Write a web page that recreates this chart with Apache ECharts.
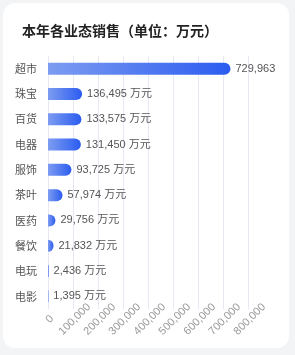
<!DOCTYPE html>
<html><head><meta charset="utf-8">
<script src="https://cdn.jsdelivr.net/npm/echarts@6/dist/echarts.min.js"></script>
<style>
html,body{margin:0;padding:0;width:295px;height:355px;background:#f3f4f6;overflow:hidden;}
#card{position:absolute;left:3px;top:3px;width:286px;height:345px;background:#fff;border-radius:12px;}
#c{position:absolute;left:0;top:0;width:295px;height:355px;}
</style></head>
<body><div id="card"></div><div id="c"></div>
<script>
var titleText = '本年各业态销售（单位：万元）';
var categories = ['超市','珠宝','百货','电器','服饰','茶叶','医药','餐饮','电玩','电影'];
var values = [729963,136495,133575,131450,93725,57974,29756,21832,2436,1395];
var unit = '万元';
var xTicks = {min:0, max:800000, interval:100000};

function fmt(v){return v.toString().replace(/\B(?=(\d{3})+(?!\d))/g, ',');}
var maxVal = Math.max.apply(null, values);
var FONT = '"Liberation Sans", Arial, "Noto Sans CJK SC", sans-serif';
var chart = echarts.init(document.getElementById('c'), null, {renderer:'canvas'});
chart.setOption({
  backgroundColor:'transparent',
  title:{text:titleText,left:17,top:19,textStyle:{fontSize:14,fontWeight:'bold',color:'#222',fontFamily:'"Noto Sans CJK SC"'}},
  grid:{left:48,right:47,top:56,bottom:46,containLabel:false},
  xAxis:{type:'value',min:xTicks.min,max:xTicks.max,interval:xTicks.interval,
    axisLine:{show:false},axisTick:{show:false},
    splitLine:{lineStyle:{color:'#e6e8f3',width:1}},
    axisLabel:{rotate:45,align:'center',verticalAlign:'middle',color:'#999',fontSize:11,margin:12,fontFamily:FONT,
      padding:[0,0,0,5],
      formatter:function(v){return fmt(v);}}},
  yAxis:{type:'category',data:categories,inverse:true,
    axisLine:{show:false},axisTick:{show:false},
    axisLabel:{color:'#555',fontSize:11,margin:11,fontFamily:'"Noto Sans CJK SC"'}},
  series:[{type:'bar',data:values,barWidth:12,
    itemStyle:{borderRadius:[0,6,6,0],
      color:new echarts.graphic.LinearGradient(0,0,1,0,[{offset:0,color:'#7d9cf1'},{offset:1,color:'#2b5cf0'}])},
    label:{show:true,position:'right',distance:5,color:'#555',fontSize:11,fontFamily:FONT,
      formatter:function(p){return p.value===maxVal?fmt(p.value):fmt(p.value)+' '+unit;}}}]
});
</script></body></html>
